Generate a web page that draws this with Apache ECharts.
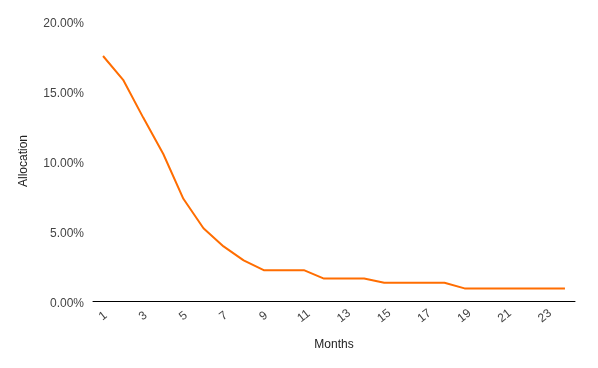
<!DOCTYPE html>
<html><head><meta charset="utf-8">
<script src="https://cdn.jsdelivr.net/npm/echarts@6/dist/echarts.min.js"></script>
<style>html,body{margin:0;padding:0;background:#fff}#c{width:598px;height:368px}</style>
</head><body><div id="c"></div>
<script>
const months = ['1','2','3','4','5','6','7','8','9','10','11','12','13','14','15','16','17','18','19','20','21','22','23','24'];
const allocation = [17.5,15.8,13.1,10.5,7.3,5.2,3.9,2.9,2.2,2.2,2.2,1.6,1.6,1.6,1.3,1.3,1.3,1.3,0.9,0.9,0.9,0.9,0.9,0.9];
const yTicks = [0,5,10,15,20];
const chart = echarts.init(document.getElementById('c'));
chart.setOption({
  animation:false,
  textStyle:{fontFamily:'Liberation Sans, Arial, sans-serif'},
  grid:{left:93,right:23,top:21,bottom:67,containLabel:false},
  xAxis:{type:'category',data:months,boundaryGap:true,
    name:'Months',nameLocation:'middle',nameGap:38,
    nameTextStyle:{color:'#222',fontSize:12},
    axisLine:{lineStyle:{color:'#000',width:1}},
    axisTick:{show:false},
    axisLabel:{interval:1,rotate:38,align:'center',verticalAlign:'middle',color:'#444',fontSize:12,margin:15}},
  yAxis:{type:'value',min:yTicks[0],max:yTicks[yTicks.length-1],interval:5,
    name:'Allocation',nameLocation:'middle',nameGap:63,
    nameTextStyle:{color:'#222',fontSize:12},
    axisLine:{show:false},axisTick:{show:false},splitLine:{show:false},
    axisLabel:{color:'#444',fontSize:12,margin:9,verticalAlign:'top',lineHeight:6,formatter:v=>v.toFixed(2)+'%'}},
  series:[{type:'line',data:allocation,showSymbol:false,
    lineStyle:{color:'#ff6d01',width:2},itemStyle:{color:'#ff6d01'}}]
});
</script></body></html>
